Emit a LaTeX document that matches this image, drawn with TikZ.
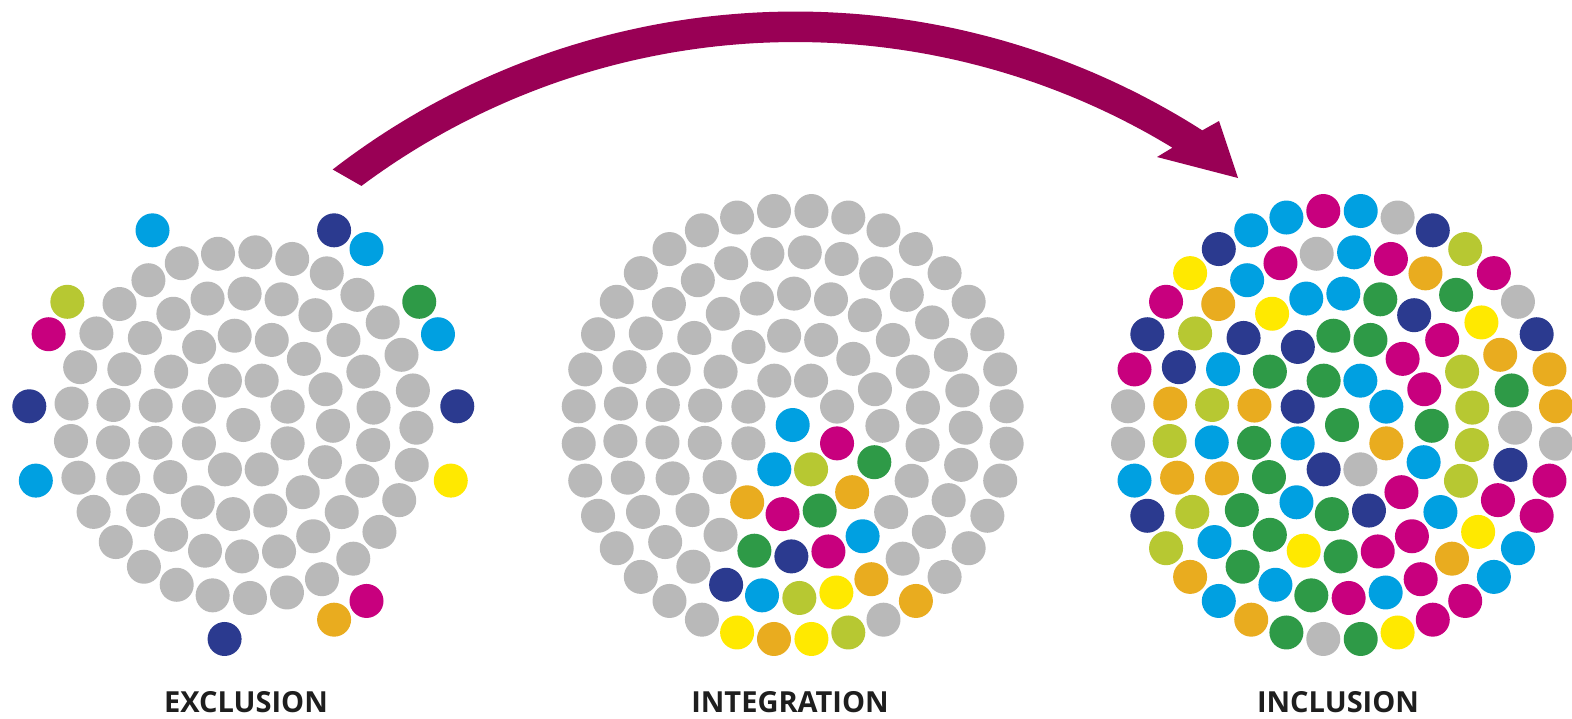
\documentclass[tikz,border=0pt]{standalone}
\usepackage{fontspec}
\setsansfont{Open Sans}
\definecolor{cG}{RGB}{185,185,185}
\definecolor{cB}{RGB}{0,160,225}
\definecolor{cN}{RGB}{43,58,143}
\definecolor{cM}{RGB}{200,0,126}
\definecolor{cL}{RGB}{183,200,50}
\definecolor{cR}{RGB}{46,154,71}
\definecolor{cO}{RGB}{233,172,31}
\definecolor{cY}{RGB}{255,233,0}
\definecolor{arrowc}{RGB}{153,0,85}
\definecolor{labc}{RGB}{30,30,30}
\tikzset{
  dotG/.style={fill=cG}, dotB/.style={fill=cB}, dotN/.style={fill=cN},
  dotM/.style={fill=cM}, dotL/.style={fill=cL}, dotR/.style={fill=cR},
  dotO/.style={fill=cO}, dotY/.style={fill=cY}, dotX/.style={},
  lab/.style={font=\sffamily\bfseries\fontsize{29}{35}\selectfont, text=labc, anchor=base, inner sep=0pt}
}
% #1 centre x, #2 ring radius, #3 number of dots, #4 start angle, #5 colour list
\newcommand\dotring[5]{%
  \foreach \c [count=\i from 0] in {#5} {%
    \pgfmathsetmacro\ang{#4+360*\i/#3}%
    \path[dot\c] ({#1+#2*cos(\ang)},{425-#2*sin(\ang)}) circle[radius=17];
  }}
\newcommand\dotcluster[7]{%
  \path[dot#2] (#1,425) circle[radius=17];
  \dotring{#1}{48}{8}{22.5}{#3}
  \dotring{#1}{89.7}{15}{-0.5}{#4}
  \dotring{#1}{131.4}{22}{7.6}{#5}
  \dotring{#1}{173.1}{29}{-0.9}{#6}
  \dotring{#1}{214.8}{36}{5}{#7}
}
\begin{document}
\begin{tikzpicture}[x=1pt,y=-1pt]
\useasboundingbox (0,0) rectangle (1572,718);
\fill[white] (0,0) rectangle (1572,718);

% EXCLUSION
\dotcluster{243.3}{G}
 {G,G,G,G,G,G,G,G}
 {G,G,G,G,G,G,G,G,G,G,G,G,G,G,G}
 {G,G,G,G,G,G,G,G,G,G,G,G,G,G,G,G,G,G,G,G,G,G}
 {G,G,G,G,G,G,G,G,G,G,G,G,G,G,G,G,G,G,G,G,G,G,G,G,G,G,G,G,G}
 {N,X,B,R,X,B,N,X,X,X,X,B,X,X,L,M,X,N,X,B,X,X,X,X,X,X,N,X,X,O,M,X,X,X,Y,X}

% INTEGRATION
\dotcluster{792.7}{B}
 {G,G,G,G,G,B,L,M}
 {G,G,G,G,G,G,G,G,G,G,O,M,R,O,R}
 {G,G,G,G,G,G,G,G,G,G,G,G,G,G,G,R,N,M,B,G,G,G}
 {G,G,G,G,G,G,G,G,G,G,G,G,G,G,G,G,G,G,G,G,N,B,L,Y,O,G,G,G,G}
 {G,G,G,G,G,G,G,G,G,G,G,G,G,G,G,G,G,G,G,G,G,G,G,G,G,Y,O,Y,L,G,O,G,G,G,G,G}

% INCLUSION
\dotcluster{1342}{R}
 {B,B,R,N,B,N,G,O}
 {R,M,M,R,R,N,R,O,R,R,B,R,N,M,B}
 {L,L,M,N,R,B,B,Y,N,B,L,B,O,R,R,Y,R,M,M,B,L,L}
 {G,R,O,Y,R,O,M,B,G,M,B,O,L,N,O,L,O,L,B,R,B,R,M,B,M,O,Y,M,N}
 {O,O,N,G,M,L,N,G,B,M,B,B,N,Y,M,N,M,G,G,B,N,L,O,B,O,R,G,R,Y,M,M,B,B,M,M,G}

% arrow
\coordinate (barbA) at (1219,121);
\coordinate (tipA) at (1238,178);
\coordinate (barbB) at (1157,157);
\fill[arrowc] plot[domain=127.7:57.45, samples=90] ({795.3+756.5*cos(\x)},{768-756.5*sin(\x)})
  -- (barbA) -- (tipA) -- (barbB)
  -- plot[domain=58.7:126.7, samples=90] ({795.3+726*cos(\x)},{768-726*sin(\x)}) -- cycle;

% labels
\node[lab] (lexc) at (246,712) {EXCLUSION};
\node[lab] (lint) at (790,712) {INTEGRATION};
\node[lab] (linc) at (1338,712) {INCLUSION};
\end{tikzpicture}
\end{document}
